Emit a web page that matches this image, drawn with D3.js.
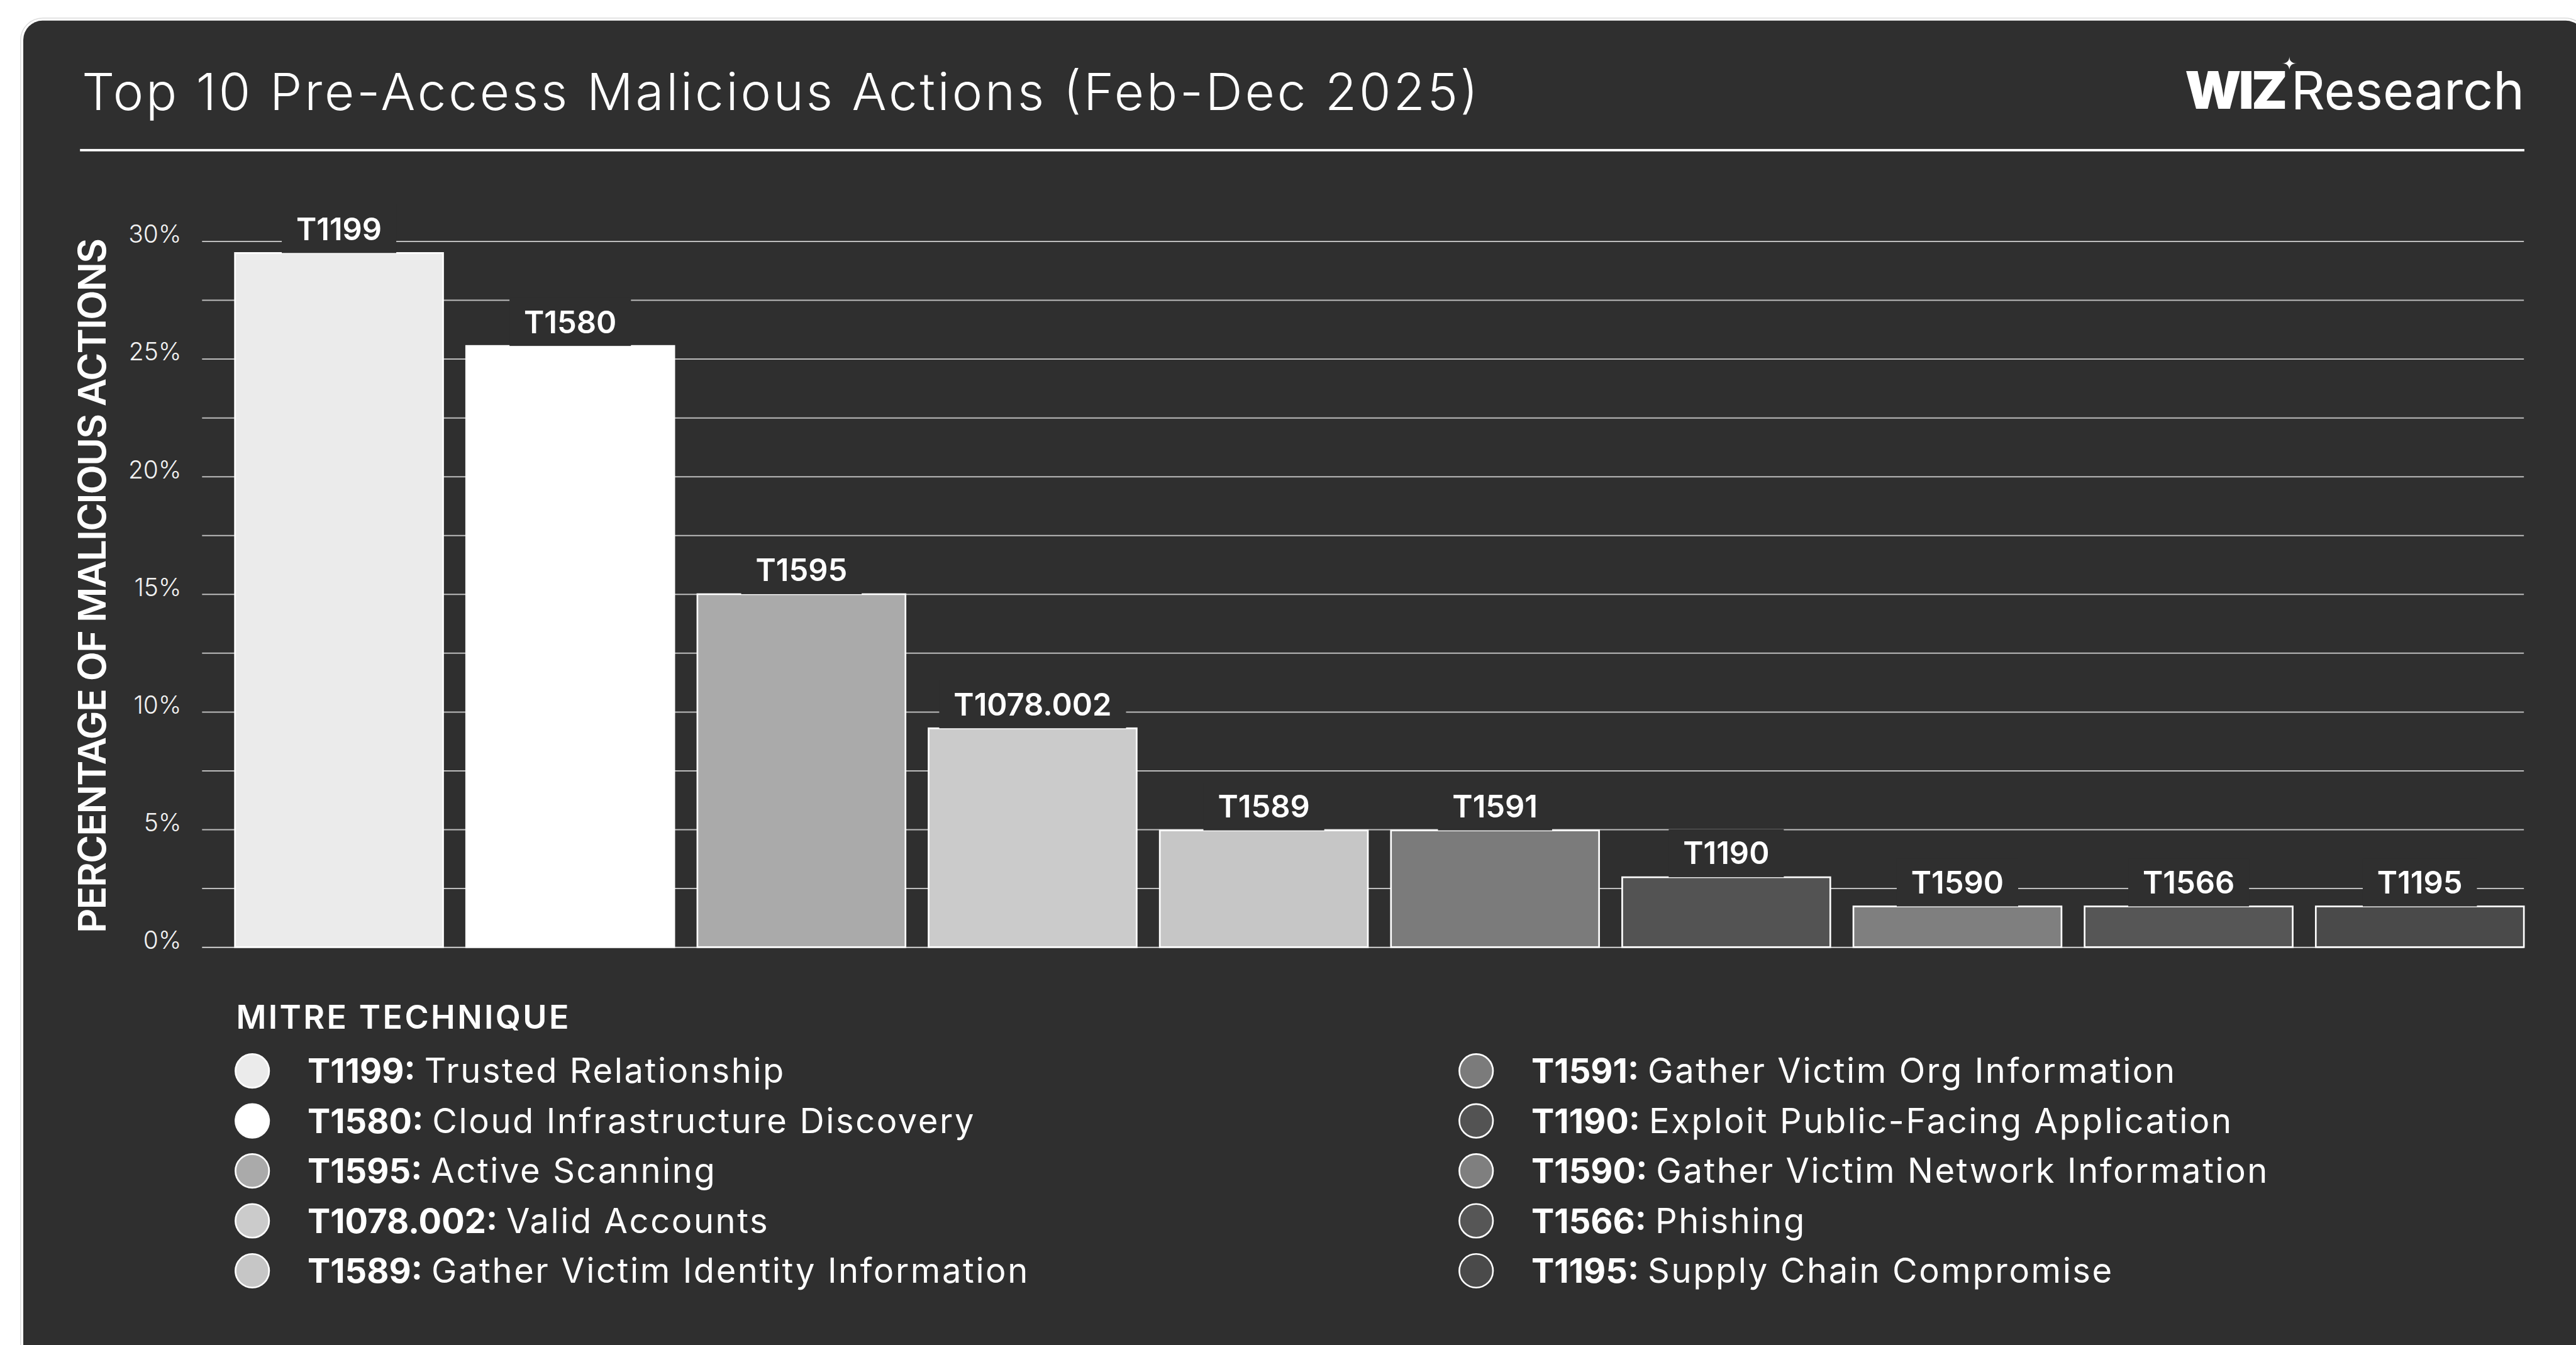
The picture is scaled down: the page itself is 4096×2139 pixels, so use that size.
<!DOCTYPE html>
<html>
<head>
<meta charset="utf-8">
<script src="https://cdn.jsdelivr.net/npm/d3@7"></script>
<style>
  html, body { margin: 0; padding: 0; background: #ffffff; overflow: hidden; }
  svg { display: block; }
  text { font-family: "Inter", "Open Sans", sans-serif; }
</style>
</head>
<body>
<svg id="chart" width="4096" height="2139" viewBox="0 0 5359 2799"></svg>
<script>
// ---- data ----
const codes = ["T1199", "T1580", "T1595", "T1078.002", "T1589", "T1591", "T1190", "T1590", "T1566", "T1195"];
const values = [29.5, 25.55, 15.0, 9.3, 4.96, 4.96, 2.97, 1.73, 1.73, 1.73];
const names = ["Trusted Relationship", "Cloud Infrastructure Discovery", "Active Scanning", "Valid Accounts",
  "Gather Victim Identity Information", "Gather Victim Org Information", "Exploit Public-Facing Application",
  "Gather Victim Network Information", "Phishing", "Supply Chain Compromise"];
const colors = ["#ebebeb", "#ffffff", "#aaaaaa", "#cbcbcb", "#c6c6c6", "#7b7b7b", "#535353", "#7f7f7f", "#565656", "#4a4a4a"];
const gridTicks = [0, 2.5, 5, 7.5, 10, 12.5, 15, 17.5, 20, 22.5, 25, 27.5, 30];
const labelTicks = [0, 5, 10, 15, 20, 25, 30];
const titleText = "Top 10 Pre-Access Malicious Actions (Feb-Dec 2025)";
const yTitle = "PERCENTAGE OF MALICIOUS ACTIONS";
const legendTitle = "MITRE TECHNIQUE";

const rows = codes.map((c, i) => ({ code: c, value: values[i], name: names[i], color: colors[i], i }));

// ---- layout (reference pixel space) ----
const BG = "#2f2f2f";
const svg = d3.select("#chart");

// card
svg.append("rect").attr("x", 0).attr("y", 0).attr("width", 5359).attr("height", 2799).attr("fill", "#ffffff");
svg.append("rect").attr("x", 42.5).attr("y", 37.5).attr("width", 5340).attr("height", 2850)
  .attr("rx", 46).attr("fill", "none").attr("stroke", "#dcdcdc").attr("stroke-width", 2);
svg.append("rect").attr("x", 48).attr("y", 43).attr("width", 5330).attr("height", 2840)
  .attr("rx", 40).attr("fill", BG);

// header
svg.append("text").attr("x", 170).attr("y", 229)
  .attr("font-size", 107).attr("font-weight", 300).attr("fill", "#ffffff")
  .attr("textLength", 2905).attr("lengthAdjust", "spacing")
  .text(titleText);
svg.append("rect").attr("x", 166).attr("y", 310).attr("width", 5252 - 166).attr("height", 5).attr("fill", "#ffffff");

// logo
svg.append("text").attr("x", 5252).attr("y", 228).attr("text-anchor", "end")
  .attr("font-size", 110).attr("font-weight", 400).attr("fill", "#ffffff").text("Research");
svg.append("text").attr("x", 4546).attr("y", 227)
  .attr("font-size", 108).attr("font-weight", 900).attr("fill", "#ffffff").attr("letter-spacing", -5).text("WIZ");
(function star(cx, cy, rx, ry) {
  const p = `M${cx},${cy - ry} Q${cx},${cy} ${cx + rx},${cy} Q${cx},${cy} ${cx},${cy + ry} Q${cx},${cy} ${cx - rx},${cy} Q${cx},${cy} ${cx},${cy - ry} Z`;
  svg.append("path").attr("d", p).attr("fill", "#ffffff");
})(4763, 132, 16, 15);

// scales
const x = d3.scaleBand().domain(codes).range([488.5, 5251]).paddingInner(0.1).paddingOuter(0);
const y = d3.scaleLinear().domain([0, 30]).range([1971, 502]);

// gridlines
const gridG = svg.append("g").attr("transform", "translate(420,0)")
  .call(d3.axisLeft(y).tickValues(gridTicks).tickSize(-(5251 - 420)).tickFormat(""));
gridG.select(".domain").remove();
gridG.selectAll(".tick line").attr("stroke", "#bdbdbd").attr("stroke-width", 2.6);
gridG.selectAll(".tick").filter(d => d === 0).select("line").attr("stroke", "#e8e8e8");

// tick labels
const labG = svg.append("g").attr("transform", "translate(420,0)")
  .call(d3.axisLeft(y).tickValues(labelTicks).tickSize(0).tickPadding(43).tickFormat(d => d + "%"));
labG.select(".domain").remove();
labG.selectAll(".tick text").attr("dy", null).attr("y", 3)
  .attr("font-size", 51).attr("font-weight", 300).attr("fill", "#f2f2f2")
  .attr("font-family", "Inter, sans-serif");

// y title
svg.append("text").attr("transform", "translate(220,1219) rotate(-90)")
  .attr("text-anchor", "middle").attr("font-size", 80).attr("font-weight", 600)
  .attr("textLength", 1446).attr("lengthAdjust", "spacing")
  .attr("fill", "#ffffff").text(yTitle);

// bars
svg.append("g").selectAll("rect").data(rows).join("rect")
  .attr("x", d => x(d.code)).attr("y", d => y(d.value))
  .attr("width", x.bandwidth()).attr("height", d => y(0) - y(d.value))
  .attr("fill", d => d.color).attr("stroke", "#ffffff").attr("stroke-width", 3.5);

// bar labels with background
const lab = svg.append("g").selectAll("g").data(rows).join("g");
lab.append("text").attr("class", "bl")
  .attr("x", d => x(d.code) + x.bandwidth() / 2).attr("y", d => y(d.value) - 27)
  .attr("text-anchor", "middle").attr("font-size", 64).attr("font-weight", 600)
  .attr("fill", "#ffffff").text(d => d.code);
lab.each(function (d) {
  const g = d3.select(this);
  const w = g.select("text").node().getComputedTextLength();
  g.insert("rect", "text")
    .attr("x", x(d.code) + x.bandwidth() / 2 - w / 2 - 30).attr("y", y(d.value) - 100)
    .attr("width", w + 60).attr("height", 100).attr("fill", BG);
});

// legend
svg.append("text").attr("x", 491).attr("y", 2141).attr("font-size", 68).attr("font-weight", 600)
  .attr("textLength", 692).attr("lengthAdjust", "spacing")
  .attr("fill", "#ffffff").text(legendTitle);
const colX = [524.5, 3071];
const leg = svg.append("g").selectAll("g").data(rows).join("g")
  .attr("transform", d => `translate(${colX[Math.floor(d.i / 5)]},${2228.6 + (d.i % 5) * 104})`);
leg.append("circle").attr("r", 35).attr("fill", d => d.color).attr("stroke", "#ffffff").attr("stroke-width", 3.5);
const lt = leg.append("text").attr("x", 115).attr("y", 25).attr("font-size", 71).attr("fill", "#ffffff");
lt.append("tspan").attr("font-weight", 700).text(d => d.code + ":");
lt.append("tspan").attr("font-weight", 400).attr("dx", -5).attr("letter-spacing", 3.4).text(d => " " + d.name);
</script>
</body>
</html>
